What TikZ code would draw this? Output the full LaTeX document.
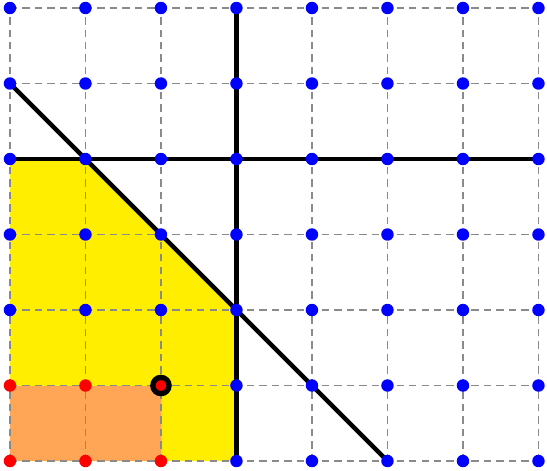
\documentclass[tikz,border=0pt]{standalone}
\definecolor{regyellow}{HTML}{FFEE00}
\definecolor{regorange}{HTML}{FFA555}
\definecolor{gridgray}{HTML}{8A8A8A}
\tikzset{
  gridline/.style={gridgray, line width=0.45pt, dash pattern=on 2.8pt off 1.9pt},
  thickline/.style={black, line width=1.7pt},
  bluedot/.style={circle, fill=blue, inner sep=0pt, minimum size=0.165cm},
  reddot/.style={circle, fill=red, inner sep=0pt, minimum size=0.165cm},
  ringdot/.style={circle, fill=red, draw=black, line width=2pt, inner sep=0pt, minimum size=0.215cm}
}
\begin{document}
\begin{tikzpicture}
\useasboundingbox (-0.132,-0.132) rectangle (7.113,6.106);
% coordinates
\foreach \x in {0,...,7}{\foreach \y in {0,...,6}{\coordinate (c\x\y) at (\x,\y);}}
% regions
\fill[regyellow] (c00) -- (c30) -- (c32) -- (c14) -- (c04) -- cycle;
\fill[regorange] (c00) rectangle (c21);
% grid
\foreach \x in {0,...,7}{\draw[gridline] (c\x0) -- (c\x6);}
\foreach \y in {0,...,6}{\draw[gridline] (c0\y) -- (c7\y);}
% thick lines
\draw[thickline] (c30) -- (c36);
\draw[thickline] (c04) -- (c74);
\draw[thickline] (c05) -- (c50);
% dots
\foreach \x in {0,...,7}{\foreach \y in {0,...,6}{
  \pgfmathtruncatemacro{\isred}{(\x<3)&&(\y<2)}
  \ifnum\isred=1
    \node[reddot] (d\x\y) at (c\x\y) {};
  \else
    \node[bluedot] (d\x\y) at (c\x\y) {};
  \fi
}}
\node[ringdot] (ring) at (c21) {};
\end{tikzpicture}
\end{document}
